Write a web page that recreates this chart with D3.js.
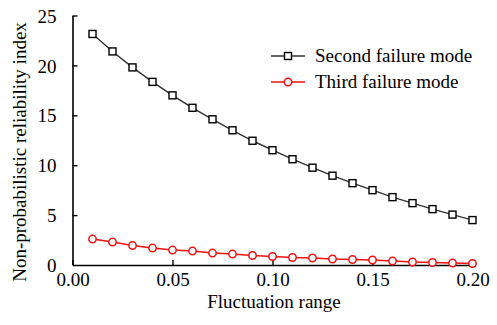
<!DOCTYPE html>
<html>
<head>
<meta charset="utf-8">
<script src="https://cdn.jsdelivr.net/npm/d3@7"></script>
<style>
body { margin: 0; background: #fff; }
</style>
</head>
<body>
<svg id="chart" width="497" height="325"></svg>
<script>
var ranges = [0.01,0.02,0.03,0.04,0.05,0.06,0.07,0.08,0.09,0.10,0.11,0.12,0.13,0.14,0.15,0.16,0.17,0.18,0.19,0.20]
var secondMode = [23.15,21.4,19.8,18.35,17.0,15.75,14.6,13.5,12.45,11.5,10.6,9.75,8.95,8.2,7.5,6.8,6.2,5.6,5.05,4.5]
var thirdMode = [2.6,2.3,1.95,1.7,1.5,1.4,1.2,1.1,0.95,0.85,0.75,0.7,0.6,0.55,0.5,0.4,0.3,0.25,0.2,0.15]
var xTicks = [0, 0.05, 0.10, 0.15, 0.20]
var yTicks = [0, 5, 10, 15, 20, 25]

var cBlack = "#333"
var cRed = "#f01010"
var serif = "Liberation Serif"
var fs = 19

var svg = d3.select("#chart")
	.attr("font-family", serif)
var x = d3.scaleLinear().domain([0, 0.2]).range([72.5, 472.5])
var y = d3.scaleLinear().domain([0, 25]).range([265, 15.5])

var xAxis = svg.append("g")
	.attr("transform", "translate(0,265)")
	.call(d3.axisBottom(x).tickValues(xTicks).tickSizeInner(-5).tickSizeOuter(0).tickPadding(8).tickFormat(d3.format(".2f")))
var yAxis = svg.append("g")
	.attr("transform", "translate(72.5,0)")
	.call(d3.axisLeft(y).tickValues(yTicks).tickSizeInner(-5).tickSizeOuter(0).tickPadding(16))

svg.selectAll(".domain").attr("stroke", "#000").attr("stroke-width", 1.6)
svg.selectAll(".tick line").attr("stroke", "#000").attr("stroke-width", 1.4)
xAxis.attr("font-family", serif).attr("font-size", fs)
yAxis.attr("font-family", serif).attr("font-size", fs)
svg.selectAll(".tick text")
	.attr("font-family", serif)
	.attr("font-size", fs)
	.attr("fill", "#000")
yAxis.selectAll(".tick text").attr("dy", "0.35em")
// the 0 tick of y sits on the x axis
yAxis.selectAll(".tick").filter(function(d){ return d === 0 }).select("line").remove()

svg.append("text")
	.text("Fluctuation range")
	.attr("x", 274)
	.attr("y", 308)
	.attr("text-anchor", "middle")
	.attr("font-family", serif)
	.attr("font-size", fs)
	.attr("fill", "#000")

svg.append("text")
	.text("Non-probabilistic reliability index")
	.attr("transform", "translate(26,152) rotate(-90)")
	.attr("text-anchor", "middle")
	.attr("font-family", serif)
	.attr("font-size", fs)
	.attr("fill", "#000")

var line = d3.line()
	.x(function(d, i) { return x(ranges[i]) })
	.y(function(d) { return y(d) })

svg.append("path")
	.datum(secondMode)
	.attr("d", line)
	.attr("fill", "none")
	.attr("stroke", cBlack)
	.attr("stroke-width", 1.4)

svg.append("path")
	.datum(thirdMode)
	.attr("d", line)
	.attr("fill", "none")
	.attr("stroke", cRed)
	.attr("stroke-width", 1.4)

svg.selectAll(".sq")
	.data(secondMode)
	.enter()
	.append("rect")
	.attr("class", "sq")
	.attr("x", function(d, i) { return x(ranges[i]) - 3.5 })
	.attr("y", function(d) { return y(d) - 3.5 })
	.attr("width", 7)
	.attr("height", 7)
	.attr("fill", "#fff")
	.attr("stroke", "#000")
	.attr("stroke-width", 1.4)

svg.selectAll(".circ")
	.data(thirdMode)
	.enter()
	.append("circle")
	.attr("class", "circ")
	.attr("cx", function(d, i) { return x(ranges[i]) })
	.attr("cy", function(d) { return y(d) })
	.attr("r", 3.7)
	.attr("fill", "#fff")
	.attr("stroke", cRed)
	.attr("stroke-width", 1.5)

// legend
var legend = [
	{"name": "Second failure mode", "color": cBlack, "mark": "sq"},
	{"name": "Third failure mode", "color": cRed, "mark": "circ"}
]
var lg = svg.selectAll(".lg")
	.data(legend)
	.enter()
	.append("g")
	.attr("class", "lg")
	.attr("transform", function(d, i) { return "translate(0," + (56 + i * 26) + ")" })
lg.append("line")
	.attr("x1", 271).attr("x2", 305)
	.attr("stroke", function(d) { return d.color })
	.attr("stroke-width", 1.4)
lg.each(function(d) {
	var g = d3.select(this)
	if (d.mark === "sq") {
		g.append("rect").attr("x", 284.5).attr("y", -3.5).attr("width", 7).attr("height", 7)
			.attr("fill", "#fff").attr("stroke", "#000").attr("stroke-width", 1.4)
	} else {
		g.append("circle").attr("cx", 288).attr("cy", 0).attr("r", 3.7)
			.attr("fill", "#fff").attr("stroke", cRed).attr("stroke-width", 1.5)
	}
})
lg.append("text")
	.text(function(d) { return d.name })
	.attr("x", 315)
	.attr("y", 0)
	.attr("dy", "0.33em")
	.attr("font-family", serif)
	.attr("font-size", fs)
	.attr("fill", "#000")
</script>
</body>
</html>
